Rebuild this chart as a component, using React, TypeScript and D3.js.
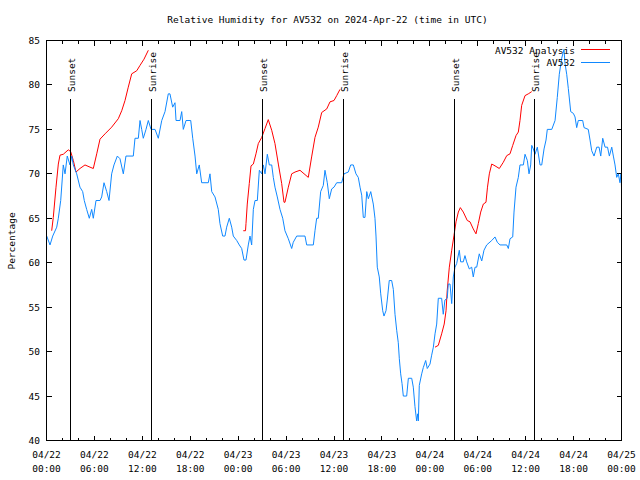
import React from "react";
import * as d3 from "d3";

// ---------- data (hours after 2024-04-22 00:00 UTC) ----------
const blueHours = [0.03,0.44,0.78,1.28,1.48,1.78,2.1,2.32,2.6,2.94,3.16,3.36,3.78,4.19,4.53,4.73,5.03,5.36,5.66,5.86,6.2,6.7,6.91,7.2,7.54,7.83,8.16,8.45,8.87,9.2,9.62,9.95,10.87,11.08,11.5,11.71,11.92,12.12,12.46,12.75,13.09,13.59,14,14.43,14.84,15.25,15.46,15.8,16.09,16.22,16.72,16.93,17.13,17.47,18.06,18.31,18.6,18.81,19.13,19.43,20.26,20.47,20.69,21.1,21.51,21.72,22.06,22.35,22.56,22.89,23.19,23.39,23.82,24.14,24.44,24.73,24.98,25.27,25.48,25.69,25.9,26.11,26.4,26.65,26.95,27.15,27.36,27.65,27.9,28.2,28.4,28.61,28.9,29.24,29.58,29.86,30.28,30.7,30.9,31.33,32.37,32.58,33.41,33.62,33.83,34.03,34.33,34.66,34.87,35.16,35.41,35.71,36,36.34,36.96,37.25,37.79,38.09,38.42,38.75,39.04,39.26,39.47,39.67,39.88,40.1,40.3,40.6,40.92,41.13,41.26,41.42,41.67,41.85,42.1,42.26,42.51,42.67,42.92,43.22,43.43,43.64,43.85,44.05,44.18,44.35,44.52,44.68,45.1,45.31,45.73,45.93,46.14,46.35,46.48,46.56,46.68,46.98,47.18,47.48,47.68,48.02,48.23,48.44,48.65,48.86,49.06,49.48,49.68,49.89,50.18,50.31,50.53,50.74,50.94,51.15,51.36,51.69,51.86,52.19,52.4,52.61,52.94,53.24,53.44,53.66,53.87,54.19,54.5,54.78,55.12,55.75,56.16,56.45,56.79,57.63,57.83,58.04,58.38,58.54,58.79,59.08,59.29,59.71,59.92,60.21,60.42,60.63,60.76,60.96,61.17,61.46,61.8,62.01,62.3,62.55,62.71,63.27,63.68,63.96,64.21,64.51,64.8,64.93,65.14,65.34,65.64,65.97,66.18,66.39,66.59,67.14,67.31,67.84,68.06,68.27,68.56,68.9,69.19,69.4,69.65,69.94,70.25,70.48,70.78,70.98,71.19,71.4,71.6,71.81,71.94,72];
const blueValues = [63,62,63,64,65,67,71,70,72,71,72,71,70,68.5,68,67,66,65,66,65,67,67,67.4,69,68,67,70,71,72,71.7,70,72,72,74,74,76,75,74,75,76,75,75,74,76,77,79,79,77.5,78,76,76,77,75,76,76,74,72,70,71,69,69,70,68,67.4,66,64.4,63,63,64,65,64,63,62.5,62,61.6,60.3,60.3,62,63,62,66,67,67,70.4,70,71,70,72.2,71,71,69.6,68.5,67.4,66,65,63.6,62.7,61.6,62.3,63,63,62,62,63.6,65,65,68,68.7,70.4,69,67.2,68.3,68.5,69,69,70,70.2,71,71,70,69.6,68.5,67.6,65.1,65.1,68,67.2,68,66.6,65,63,59.5,58.4,56.5,54.6,54,54.6,55.8,58,58,57,54.2,52.4,51,49.2,47.5,46.4,45,45,47,47,46,43.8,42.2,43,42.2,46.2,47.5,48.2,49,48.1,48.6,49.6,50.5,52,53.1,56,56,54.2,55.8,56,57.6,57.6,55.4,58.4,59.5,59.9,61.4,60.1,60.1,60.8,60.1,59.3,59.5,58.4,59.5,59.5,61,60.2,61.4,62,62.5,62.9,62.3,62,62,61.6,62.7,62.9,65.7,68.5,69.6,71,71,72.2,71.5,70,71,73.2,72.8,72.2,73,71,71,72.8,73.8,75,75,76,78.6,81.2,83,84,82.4,81.2,79.6,77,76.8,76.4,75.2,76,76,75.2,75,73.8,72.6,72,73,73,72,74,73,73,72,73,72,71,69.6,70,69,70,68.5];

// null separates the three analysis runs
const redHours = [0.65,0.85,1.19,1.48,1.69,2.1,2.73,3.03,3.36,3.69,4.19,4.82,5.45,5.86,6.29,6.7,7.33,8.16,8.99,9.42,9.83,10.24,10.67,11.3,11.71,12.21,12.75,
  null,
  24.64,24.92,24.98,25.14,25.39,25.61,25.9,26.23,26.52,26.95,27.36,27.77,28.2,28.61,29.03,29.45,29.74,29.86,30.28,30.7,31.12,31.74,32.78,33.2,33.62,34.03,34.46,35.09,35.5,36,36.34,36.75,
  null,
  48.65,49.06,49.48,49.8,50.03,50.18,50.44,50.74,51.03,51.28,51.57,51.82,52.19,52.69,53.03,53.44,53.78,54.07,54.37,54.7,55.03,55.22,55.45,55.75,56.16,56.7,57.2,57.63,58.04,58.38,58.79,59.08,59.29,59.5,59.92,60.33,60.76];
const redValues = [63.6,65.1,68.5,71.1,72.1,72.2,72.7,72.5,71.5,70.2,70.6,71,70.75,70.6,72.25,73.9,74.5,75.25,76.2,77.1,78.25,79.75,81.25,81.6,82.2,82.9,83.9,
  null,
  63.6,63.6,64.4,66.6,68.9,70.9,71.1,72.25,73.4,74.1,75.1,76.1,74.9,73.4,71.1,68.9,66.8,66.8,68.5,70,70.2,70.4,69.6,71.9,74.1,75.25,76.9,77.3,78.1,78.25,78.8,79.5,
  null,
  50.5,50.7,52,53.1,54.6,56.9,59.5,61.4,63.1,64.6,65.7,66.2,65.7,64.75,64.6,63.8,63.25,64.4,65.7,66.6,66.8,68.5,70,71.1,70.9,70.6,71.3,72.05,72.25,73.2,74.3,74.7,76,77.7,78.8,79,79.25];

const sunLabels = ["Sunset", "Sunrise", "Sunset", "Sunrise", "Sunset", "Sunrise"];
const sunHours = [3.0, 13.1, 27.05, 37.15, 51.05, 61.1];

const xTickHours = [0, 6, 12, 18, 24, 30, 36, 42, 48, 54, 60, 66, 72];
const xTickDates = ["04/22","04/22","04/22","04/22","04/23","04/23","04/23","04/23","04/24","04/24","04/24","04/24","04/25"];
const xTickTimes = ["00:00","06:00","12:00","18:00","00:00","06:00","12:00","18:00","00:00","06:00","12:00","18:00","00:00"];
const yTicks = [40, 45, 50, 55, 60, 65, 70, 75, 80, 85];

const seriesNames = ["AV532 Analysis", "AV532"];
const seriesColors = ["#ff0000", "#0f88ff"];

const titleText = "Relative Humidity for AV532 on 2024-Apr-22 (time in UTC)";
const yLabel = "Percentage";

// ---------- chart ----------
const START = Date.UTC(2024, 3, 22, 0, 0);
const toDate = (h: number) => new Date(START + h * 3600000);

export default function App() {
  const x = d3.scaleUtc().domain([toDate(0), toDate(72)]).range([46.5, 621.5]);
  const y = d3.scaleLinear().domain([40, 85]).range([440.5, 40.5]);
  const L = 46.5, R = 621.5, T = 40.5, B = 440.5;
  const font = "'DejaVu Sans Mono', monospace";
  const fs = 9.5;

  const blue = blueHours.map((h, i) => ({ t: toDate(h), v: blueValues[i] }));
  const red = redHours.map((h, i) => ({ t: h == null ? null : toDate(h), v: redValues[i] }));

  const line = d3
    .line<{ t: Date | null; v: number | null }>()
    .defined((d) => d.t != null && d.v != null)
    .x((d) => x(d.t as Date))
    .y((d) => y(d.v as number));

  const minorHours = d3.range(0, 73, 2).filter((h) => h % 6 !== 0);
  const px = (v: number) => Math.floor(v) + 0.5;

  return (
    <svg
      width={640}
      height={480}
      style={{ position: "fixed", left: 0, top: 0, background: "#fff" }}
      fontFamily={font}
      fontSize={fs}
    >
      <rect x={0} y={0} width={640} height={480} fill="#fff" />
      <text x={327.5} y={23} textAnchor="middle" fill="#000">{titleText}</text>

      {/* y ticks and labels */}
      <g shapeRendering="crispEdges" stroke="#000">
        {yTicks.map((v) => (
          <g key={"y" + v}>
            <line x1={L} x2={L + 5} y1={px(y(v))} y2={px(y(v))} />
            <line x1={R} x2={R - 5} y1={px(y(v))} y2={px(y(v))} />
          </g>
        ))}
        {xTickHours.map((h) => (
          <g key={"xt" + h}>
            <line x1={px(x(toDate(h)))} x2={px(x(toDate(h)))} y1={B} y2={B - 5} />
            <line x1={px(x(toDate(h)))} x2={px(x(toDate(h)))} y1={T} y2={T + 5} />
          </g>
        ))}
        {minorHours.map((h) => (
          <g key={"mt" + h}>
            <line x1={px(x(toDate(h)))} x2={px(x(toDate(h)))} y1={B} y2={B - 3} />
            <line x1={px(x(toDate(h)))} x2={px(x(toDate(h)))} y1={T} y2={T + 3} />
          </g>
        ))}
      </g>
      {yTicks.map((v) => (
        <text key={"yl" + v} x={40} y={y(v) + 3.5} textAnchor="end" fill="#000">{v}</text>
      ))}
      {xTickHours.map((h, i) => (
        <g key={"xl" + h}>
          <text x={x(toDate(h))} y={457.5} textAnchor="middle" fill="#000">{xTickDates[i]}</text>
          <text x={x(toDate(h))} y={471.5} textAnchor="middle" fill="#000">{xTickTimes[i]}</text>
        </g>
      ))}
      <text transform="translate(14.5,241) rotate(-90)" textAnchor="middle" fill="#000">{yLabel}</text>

      {/* data */}
      <path d={line(red) || ""} fill="none" stroke={seriesColors[0]} strokeWidth={1} />
      <path d={line(blue) || ""} fill="none" stroke={seriesColors[1]} strokeWidth={1} />

      {/* sunrise / sunset markers */}
      {sunHours.map((h, i) => {
        const sx = px(x(toDate(h)));
        return (
          <g key={"sun" + i}>
            <line x1={sx} x2={sx} y1={99} y2={B} stroke="#000" shapeRendering="crispEdges" />
            <text transform={`translate(${sx + 4},92) rotate(-90)`} textAnchor="start" fill="#000">{sunLabels[i]}</text>
          </g>
        );
      })}

      {/* legend */}
      {seriesNames.map((n, i) => (
        <g key={"lg" + n}>
          <text x={575} y={53.5 + i * 12.5} textAnchor="end" fill="#000">{n}</text>
          <line x1={581} x2={610} y1={49.5 + i * 13} y2={49.5 + i * 13} stroke={seriesColors[i]} shapeRendering="crispEdges" />
        </g>
      ))}

      <rect x={L} y={T} width={R - L} height={B - T} fill="none" stroke="#000" shapeRendering="crispEdges" />
    </svg>
  );
}
